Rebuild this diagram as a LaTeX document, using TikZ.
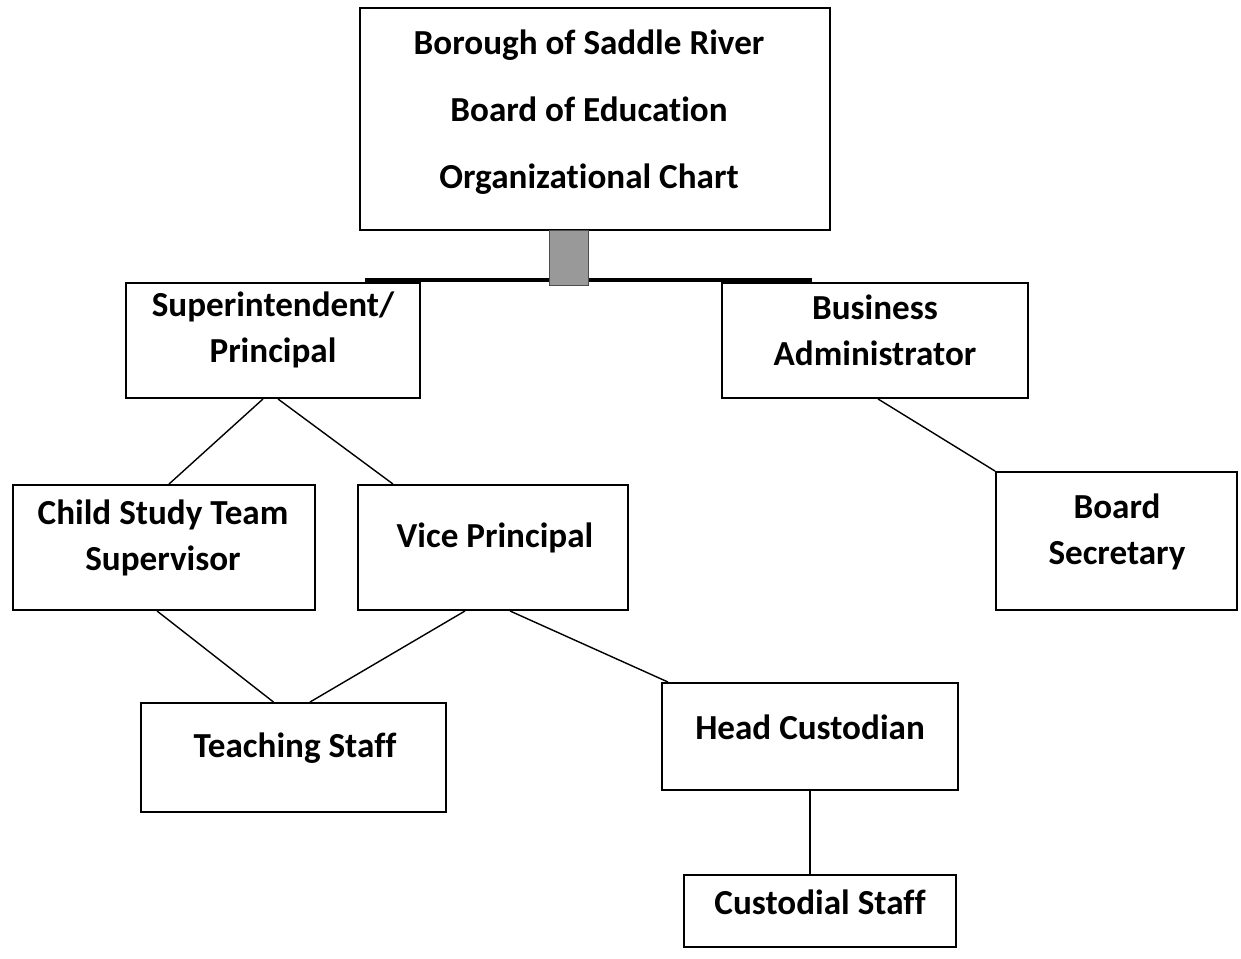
\documentclass[tikz,border=0pt]{standalone}
\usepackage{fontspec}
\setmainfont{Carlito}[Ligatures=CommonOff]
\usetikzlibrary{fit}

\begin{document}
\begin{tikzpicture}[x=0.02cm,y=-0.02cm,
                    box/.style={draw,line width=1.1pt,inner sep=0pt},
                    title/.style={font=\bfseries\fontsize{20}{24}\selectfont,align=center},
                    link/.style={line width=0.8pt}]
    \useasboundingbox (0,0) rectangle (1241,958);
    % boxes
    \node[box,fit={(360,8) (830,230)}] (board) {};
    \node[box,fit={(126,283) (420,398)}] (sup) {};
    \node[box,fit={(722,283) (1028,398)}] (busadm) {};
    \node[box,fit={(13,485) (315,610)}] (cst) {};
    \node[box,fit={(358,485) (628,610)}] (vp) {};
    \node[box,fit={(996,472) (1237,610)}] (secr) {};
    \node[box,fit={(141,703) (446,812)}] (teach) {};
    \node[box,fit={(662,683) (958,790)}] (headcust) {};
    \node[box,fit={(684,875) (956,947)}] (custstaff) {};
    % texts
    \node[title] (board text) at (589,112) {Borough of Saddle River\\[14pt] Board of Education\\[14pt] Organizational Chart};
    \node[title] (sup text) at (273,330) {Superintendent/\\[2pt] Principal};
    \node[title] (busadm text) at (875,330) {Business\\[2pt] Administrator};
    \node[title] (cst text) at (163,538) {Child Study Team\\[2pt] Supervisor};
    \node[title] (vp text) at (495,538) {Vice Principal};
    \node[title] (secr text) at (1117,532) {Board\\[2pt] Secretary};
    \node[title] (teach text) at (295,748) {Teaching Staff};
    \node[title] (headcust text) at (810,727) {Head Custodian};
    \node[title] (custstaff text) at (820,902) {Custodial Staff};
    % top connector
    \coordinate (bar left) at (365,280);
    \coordinate (bar right) at (812,280);
    \draw[line width=2pt] (bar left) -- (bar right);
    \node[draw=black!70,fill=black!40,inner sep=0pt,fit={(549,230) (588,285)}] (stem) {};
    % links
    \draw[link] ([xshift=-0.2cm]sup.south) -- ([xshift=0.1cm]cst.north);
    \draw[link] ([xshift=0.1cm]sup.south) -- ([xshift=-2.0cm]vp.north);
    \draw[link] ([xshift=0.06cm]busadm.south) -- ([xshift=-2.43cm]secr.north);
    \draw[link] ([xshift=-0.14cm]cst.south) -- ([xshift=-0.4cm]teach.north);
    \draw[link] ([xshift=-0.56cm]vp.south) -- ([xshift=0.33cm]teach.north);
    \draw[link] ([xshift=0.34cm]vp.south) -- ([xshift=-2.84cm]headcust.north);
    \draw[link] (headcust.south) -- (headcust.south |- custstaff.north);
\end{tikzpicture}
\end{document}
